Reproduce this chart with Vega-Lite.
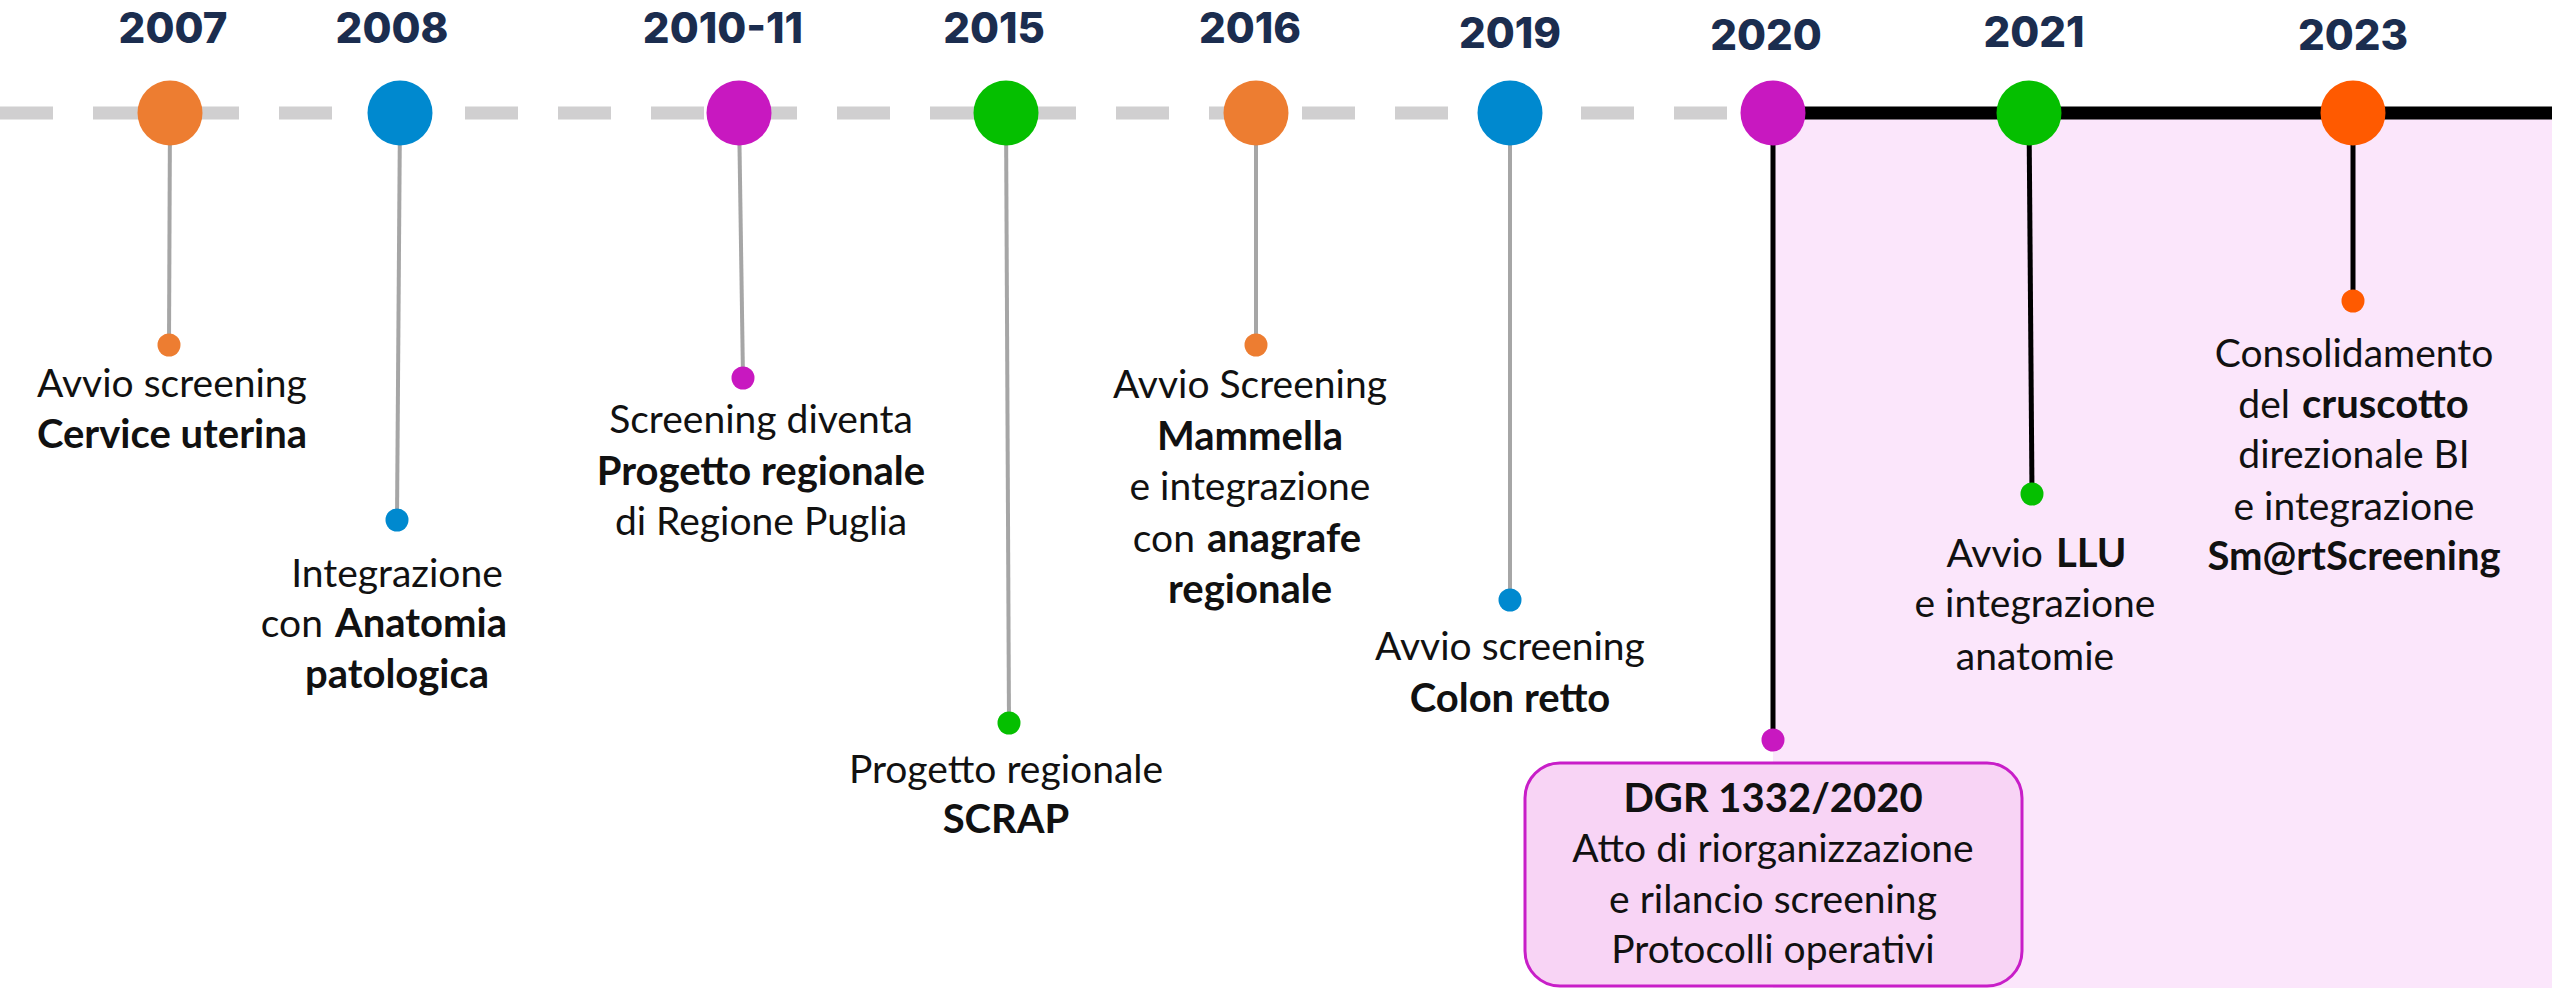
{
  "$schema": "https://vega.github.io/schema/vega-lite/v6.json",
  "width": 2552,
  "height": 988,
  "autosize": {"type": "none"},
  "padding": 0,
  "background": "#ffffff",
  "config": {"view": {"stroke": null}},
  "datasets": {
    "panels": [
      {"kind": "backdrop", "from": 1773, "to": 2552, "top": 119, "bottom": 988},
      {"kind": "box", "from": 1525, "to": 2022, "top": 763, "bottom": 986}
    ],
    "track": [
      {"segment": "dashed", "from": 0, "to": 1733, "depth": 113},
      {"segment": "solid", "from": 1773, "to": 2552, "depth": 113}
    ],
    "events": [
      {"year": "2007", "era": "before", "pos": 170, "depth": 113, "dot_pos": 169, "dot_depth": 345, "label_pos": 173, "label_depth": 43},
      {"year": "2008", "era": "before", "pos": 400, "depth": 113, "dot_pos": 397, "dot_depth": 520, "label_pos": 392, "label_depth": 43},
      {"year": "2010-11", "era": "before", "pos": 739, "depth": 113, "dot_pos": 743, "dot_depth": 378, "label_pos": 723, "label_depth": 43},
      {"year": "2015", "era": "before", "pos": 1006, "depth": 113, "dot_pos": 1009, "dot_depth": 723, "label_pos": 994, "label_depth": 43},
      {"year": "2016", "era": "before", "pos": 1256, "depth": 113, "dot_pos": 1256, "dot_depth": 345, "label_pos": 1250, "label_depth": 43},
      {"year": "2019", "era": "before", "pos": 1510, "depth": 113, "dot_pos": 1510, "dot_depth": 600, "label_pos": 1510, "label_depth": 48},
      {"year": "2020", "era": "after", "pos": 1773, "depth": 113, "dot_pos": 1773, "dot_depth": 740, "label_pos": 1766, "label_depth": 50},
      {"year": "2021", "era": "after", "pos": 2029, "depth": 113, "dot_pos": 2032, "dot_depth": 494, "label_pos": 2034, "label_depth": 47},
      {"year": "2023", "era": "after", "pos": 2353, "depth": 113, "dot_pos": 2353, "dot_depth": 301, "label_pos": 2353, "label_depth": 50}
    ],
    "lines": [
      {"event": "2007", "pos": 172, "depth": 397, "text": "Avvio screening", "style": "plain"},
      {"event": "2007", "pos": 172, "depth": 448, "text": "Cervice uterina", "style": "bold"},
      {"event": "2008", "pos": 397, "depth": 587, "text": "Integrazione", "style": "plain"},
      {"event": "2008", "pos": 323, "depth": 637, "text": "con", "style": "lead"},
      {"event": "2008", "pos": 335, "depth": 637, "text": "Anatomia", "style": "tail"},
      {"event": "2008", "pos": 397, "depth": 688, "text": "patologica", "style": "bold"},
      {"event": "2010-11", "pos": 761, "depth": 433, "text": "Screening diventa", "style": "plain"},
      {"event": "2010-11", "pos": 761, "depth": 485, "text": "Progetto regionale", "style": "bold"},
      {"event": "2010-11", "pos": 761, "depth": 535, "text": "di Regione Puglia", "style": "plain"},
      {"event": "2015", "pos": 1006, "depth": 783, "text": "Progetto regionale", "style": "plain"},
      {"event": "2015", "pos": 1006, "depth": 833, "text": "SCRAP", "style": "bold"},
      {"event": "2016", "pos": 1250, "depth": 398, "text": "Avvio Screening", "style": "plain"},
      {"event": "2016", "pos": 1250, "depth": 450, "text": "Mammella", "style": "bold"},
      {"event": "2016", "pos": 1250, "depth": 500, "text": "e integrazione", "style": "plain"},
      {"event": "2016", "pos": 1195, "depth": 552, "text": "con", "style": "lead"},
      {"event": "2016", "pos": 1207, "depth": 552, "text": "anagrafe", "style": "tail"},
      {"event": "2016", "pos": 1250, "depth": 603, "text": "regionale", "style": "bold"},
      {"event": "2019", "pos": 1510, "depth": 660, "text": "Avvio screening", "style": "plain"},
      {"event": "2019", "pos": 1510, "depth": 712, "text": "Colon retto", "style": "bold"},
      {"event": "2020", "pos": 1773, "depth": 812, "text": "DGR 1332/2020", "style": "bold"},
      {"event": "2020", "pos": 1773, "depth": 862, "text": "Atto di riorganizzazione", "style": "plain"},
      {"event": "2020", "pos": 1773, "depth": 913, "text": "e rilancio screening", "style": "plain"},
      {"event": "2020", "pos": 1773, "depth": 963, "text": "Protocolli operativi", "style": "plain"},
      {"event": "2021", "pos": 2043, "depth": 567, "text": "Avvio", "style": "lead"},
      {"event": "2021", "pos": 2056, "depth": 567, "text": "LLU", "style": "tail"},
      {"event": "2021", "pos": 2035, "depth": 617, "text": "e integrazione", "style": "plain"},
      {"event": "2021", "pos": 2035, "depth": 670, "text": "anatomie", "style": "plain"},
      {"event": "2023", "pos": 2354, "depth": 367, "text": "Consolidamento", "style": "plain"},
      {"event": "2023", "pos": 2290, "depth": 418, "text": "del", "style": "lead"},
      {"event": "2023", "pos": 2302, "depth": 418, "text": "cruscotto", "style": "tail"},
      {"event": "2023", "pos": 2354, "depth": 468, "text": "direzionale BI", "style": "plain"},
      {"event": "2023", "pos": 2354, "depth": 520, "text": "e integrazione", "style": "plain"},
      {"event": "2023", "pos": 2354, "depth": 570, "text": "Sm@rtScreening", "style": "bold"}
    ]
  },
  "layer": [
    {
      "data": {"name": "panels"},
      "transform": [{"filter": "datum.kind === 'backdrop'"}],
      "mark": {"type": "rect", "color": "#fbe6fb"},
      "encoding": {
        "x": {"field": "from", "type": "quantitative", "scale": {"domain": [0, 2552], "nice": false, "zero": false}, "axis": null},
        "x2": {"field": "to"},
        "y": {"field": "top", "type": "quantitative", "scale": {"domain": [0, 988], "reverse": true, "nice": false, "zero": false}, "axis": null},
        "y2": {"field": "bottom"}
      }
    },
    {
      "data": {"name": "track"},
      "transform": [{"filter": "datum.segment === 'dashed'"}],
      "mark": {"type": "rule", "color": "#d0cfd0", "strokeWidth": 13, "strokeDash": [53, 40]},
      "encoding": {
        "x": {"field": "from", "type": "quantitative", "axis": null},
        "x2": {"field": "to"},
        "y": {"field": "depth", "type": "quantitative", "axis": null}
      }
    },
    {
      "data": {"name": "track"},
      "transform": [{"filter": "datum.segment === 'solid'"}],
      "mark": {"type": "rule", "color": "#000000", "strokeWidth": 13},
      "encoding": {
        "x": {"field": "from", "type": "quantitative", "axis": null},
        "x2": {"field": "to"},
        "y": {"field": "depth", "type": "quantitative", "axis": null}
      }
    },
    {
      "data": {"name": "events"},
      "transform": [{"filter": "datum.era === 'before'"}],
      "mark": {"type": "rule", "color": "#a6a6a6", "strokeWidth": 4},
      "encoding": {
        "x": {"field": "pos", "type": "quantitative", "axis": null},
        "x2": {"field": "dot_pos"},
        "y": {"field": "depth", "type": "quantitative", "axis": null},
        "y2": {"field": "dot_depth"}
      }
    },
    {
      "data": {"name": "events"},
      "transform": [{"filter": "datum.era === 'after'"}],
      "mark": {"type": "rule", "color": "#000000", "strokeWidth": 5},
      "encoding": {
        "x": {"field": "pos", "type": "quantitative", "axis": null},
        "x2": {"field": "dot_pos"},
        "y": {"field": "depth", "type": "quantitative", "axis": null},
        "y2": {"field": "dot_depth"}
      }
    },
    {
      "data": {"name": "panels"},
      "transform": [{"filter": "datum.kind === 'box'"}],
      "mark": {"type": "rect", "fill": "#f8d4f5", "stroke": "#c81ec8", "strokeWidth": 3, "cornerRadius": 35},
      "encoding": {
        "x": {"field": "from", "type": "quantitative", "axis": null},
        "x2": {"field": "to"},
        "y": {"field": "top", "type": "quantitative", "axis": null},
        "y2": {"field": "bottom"}
      }
    },
    {
      "data": {"name": "events"},
      "mark": {"type": "point", "shape": "circle", "filled": true, "opacity": 1, "size": 4225},
      "encoding": {
        "x": {"field": "pos", "type": "quantitative", "axis": null},
        "y": {"field": "depth", "type": "quantitative", "axis": null},
        "color": {"field": "year", "type": "nominal", "legend": null,
          "scale": {"domain": ["2007", "2008", "2010-11", "2015", "2016", "2019", "2020", "2021", "2023"],
                    "range": ["#ed7d31", "#0089cf", "#c818c0", "#05bf00", "#ed7d31", "#0089cf", "#c818c0", "#05bf00", "#ff5a00"]}}
      }
    },
    {
      "data": {"name": "events"},
      "mark": {"type": "point", "shape": "circle", "filled": true, "opacity": 1, "size": 529},
      "encoding": {
        "x": {"field": "dot_pos", "type": "quantitative", "axis": null},
        "y": {"field": "dot_depth", "type": "quantitative", "axis": null},
        "color": {"field": "year", "type": "nominal", "legend": null}
      }
    },
    {
      "data": {"name": "events"},
      "mark": {"type": "text", "font": "Inter", "fontWeight": 800, "fontSize": 42, "color": "#1b2d4f", "align": "center", "baseline": "alphabetic"},
      "encoding": {
        "x": {"field": "label_pos", "type": "quantitative", "axis": null},
        "y": {"field": "label_depth", "type": "quantitative", "axis": null},
        "text": {"field": "year"}
      }
    },
    {
      "data": {"name": "lines"},
      "transform": [{"filter": "datum.style === 'plain'"}],
      "mark": {"type": "text", "font": "Lato", "fontSize": 39, "color": "#111111", "align": "center", "baseline": "alphabetic"},
      "encoding": {
        "x": {"field": "pos", "type": "quantitative", "axis": null},
        "y": {"field": "depth", "type": "quantitative", "axis": null},
        "text": {"field": "text"}
      }
    },
    {
      "data": {"name": "lines"},
      "transform": [{"filter": "datum.style === 'bold'"}],
      "mark": {"type": "text", "font": "Lato", "fontWeight": "bold", "fontSize": 40, "color": "#111111", "align": "center", "baseline": "alphabetic"},
      "encoding": {
        "x": {"field": "pos", "type": "quantitative", "axis": null},
        "y": {"field": "depth", "type": "quantitative", "axis": null},
        "text": {"field": "text"}
      }
    },
    {
      "data": {"name": "lines"},
      "transform": [{"filter": "datum.style === 'lead'"}],
      "mark": {"type": "text", "font": "Lato", "fontSize": 39, "color": "#111111", "align": "right", "baseline": "alphabetic"},
      "encoding": {
        "x": {"field": "pos", "type": "quantitative", "axis": null},
        "y": {"field": "depth", "type": "quantitative", "axis": null},
        "text": {"field": "text"}
      }
    },
    {
      "data": {"name": "lines"},
      "transform": [{"filter": "datum.style === 'tail'"}],
      "mark": {"type": "text", "font": "Lato", "fontWeight": "bold", "fontSize": 40, "color": "#111111", "align": "left", "baseline": "alphabetic"},
      "encoding": {
        "x": {"field": "pos", "type": "quantitative", "axis": null},
        "y": {"field": "depth", "type": "quantitative", "axis": null},
        "text": {"field": "text"}
      }
    }
  ]
}
